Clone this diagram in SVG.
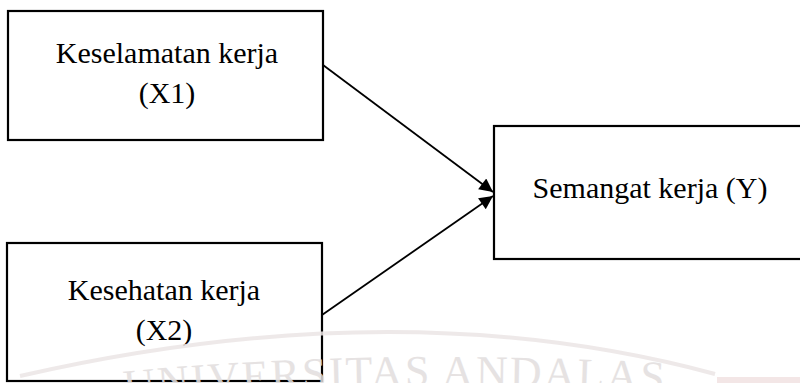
<svg xmlns="http://www.w3.org/2000/svg" width="800" height="383" viewBox="0 0 800 383">
  <style>
    .box { fill: #ffffff; stroke: #000000; stroke-width: 2.2; }
    .lbl { font-family: "Liberation Serif", "Times New Roman", serif; font-size: 30px; fill: #000000; text-anchor: middle; }
    .edge { stroke: #000000; stroke-width: 1.8; fill: none; marker-end: url(#arrow); }
    .wm { font-family: "Liberation Serif", "Times New Roman", serif; font-size: 44px; fill: #e2dede; letter-spacing: 2px; }
  </style>
  <defs>
    <marker id="arrow" viewBox="0 0 10 10" refX="10" refY="5" markerWidth="10.5" markerHeight="7.5" markerUnits="strokeWidth" orient="auto">
      <path d="M0,0 L10,5 L0,10 z" fill="#000000"/>
    </marker>
    <path id="wmArc" d="M 110 402 Q 400 372 760 398"/>
  </defs>
  <rect x="0" y="0" width="800" height="383" fill="#ffffff"/>

  <g id="node-x1">
    <rect class="box" x="8" y="11" width="315" height="129"/>
    <text class="lbl" x="167" y="63">Keselamatan kerja</text>
    <text class="lbl" x="167" y="103">(X1)</text>
  </g>

  <g id="node-x2">
    <rect class="box" x="7" y="243" width="315" height="138"/>
    <text class="lbl" x="164" y="300">Kesehatan kerja</text>
    <text class="lbl" x="164" y="340">(X2)</text>
  </g>

  <g id="node-y">
    <rect class="box" x="494" y="126" width="320" height="133"/>
    <text class="lbl" x="650" y="198">Semangat kerja (Y)</text>
  </g>

  <g id="connectors">
    <line class="edge" x1="323" y1="65" x2="493" y2="192"/>
    <line class="edge" x1="322" y1="315" x2="493" y2="196"/>
  </g>

  <g id="watermark" opacity="0.85">
    <path d="M 20 376 Q 400 289 715 374" fill="none" stroke="#ece6e6" stroke-width="4"/>
    <rect x="717" y="377" width="83" height="6" fill="#f1e2e2"/>
    <text class="wm"><textPath href="#wmArc" startOffset="15">UNIVERSITAS ANDALAS</textPath></text>
  </g>
</svg>
